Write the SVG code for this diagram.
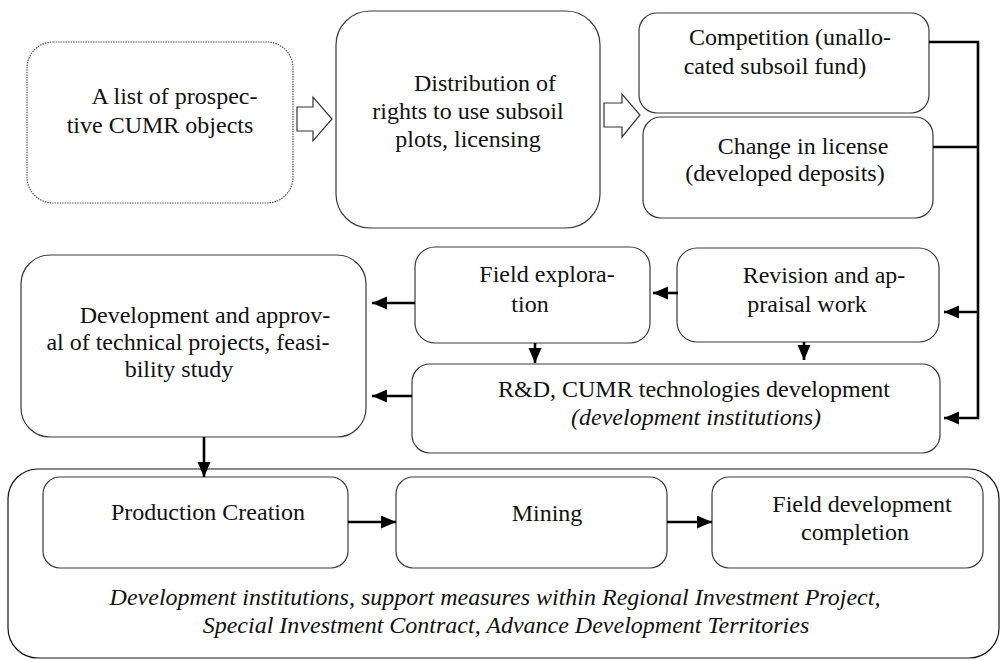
<svg xmlns="http://www.w3.org/2000/svg" width="1001" height="660" viewBox="0 0 1001 660">
<style>
.box{fill:#fff;stroke:#3a3a3a;stroke-width:1.2}
.dot{fill:#fff;stroke:#555;stroke-width:1.2;stroke-dasharray:1.5 1}
.hol{fill:#fff;stroke:#333;stroke-width:1.2}
.t{font-family:"Liberation Serif","Times New Roman",serif;font-size:24px;fill:#111;text-anchor:middle}
.i{font-style:italic}
.c{fill:none;stroke:#000;stroke-width:2.6}
</style>
<defs>
<marker id="ah" markerUnits="userSpaceOnUse" markerWidth="16" markerHeight="14" refX="15" refY="6.5" orient="auto">
<path d="M0,0 L15,6.5 L0,13 z" fill="#000"/>
</marker>
</defs>
<g id="container">
<rect x="8" y="469" width="991" height="189" rx="30" class="box" style="stroke:#111"/>
<text class="t i" x="495" y="605">Development institutions, support measures within Regional Investment Project,</text>
<text class="t i" x="506" y="633">Special Investment Contract, Advance Development Territories</text>
</g>
<g id="list">
<rect x="27" y="42" width="266" height="161" rx="26" class="dot"/>
<text class="t" x="174.5" y="104">A list of prospec-</text>
<text class="t" x="160" y="133">tive CUMR objects</text>
</g>
<g id="arrow1"><polygon class="hol" points="297,107 313,107 313,97 332,119 313,141 313,131 297,131"/></g>
<g id="distribution">
<rect x="336" y="11" width="264" height="217" rx="34" class="box"/>
<text class="t" x="485" y="91">Distribution of</text>
<text class="t" x="468" y="119">rights to use subsoil</text>
<text class="t" x="468" y="147">plots, licensing</text>
</g>
<g id="arrow2"><polygon class="hol" points="604,103 622,103 622,94 640,115 622,137 622,127 604,127"/></g>
<g id="competition">
<rect x="639" y="13" width="290" height="100" rx="18" class="box"/>
<text class="t" x="790" y="45">Competition (unallo-</text>
<text class="t" x="775" y="74">cated subsoil fund)</text>
</g>
<g id="change">
<rect x="643" y="117" width="290" height="101" rx="18" class="box"/>
<text class="t" x="803" y="154">Change in license</text>
<text class="t" x="785" y="181">(developed deposits)</text>
</g>
<g id="development">
<rect x="21" y="255" width="345" height="182" rx="29" class="box"/>
<text class="t" x="205" y="323">Development and approv-</text>
<text class="t" x="188" y="350">al of technical projects, feasi-</text>
<text class="t" x="179" y="377">bility study</text>
</g>
<g id="field-exploration">
<rect x="415" y="247" width="235" height="96" rx="20" class="box"/>
<text class="t" x="547" y="282">Field explora-</text>
<text class="t" x="530" y="312">tion</text>
</g>
<g id="revision">
<rect x="677" y="248" width="262" height="94" rx="20" class="box"/>
<text class="t" x="824" y="283">Revision and ap-</text>
<text class="t" x="807" y="312">praisal work</text>
</g>
<g id="rd">
<rect x="412" y="364" width="528" height="89" rx="18" class="box"/>
<text class="t" x="694" y="397">R&amp;D, CUMR technologies development</text>
<text class="t i" x="696" y="425">(development institutions)</text>
</g>
<g id="production">
<rect x="43" y="477" width="305" height="91" rx="17" class="box"/>
<text class="t" x="208" y="520">Production Creation</text>
</g>
<g id="mining">
<rect x="396" y="477" width="271" height="91" rx="17" class="box"/>
<text class="t" x="547" y="521">Mining</text>
</g>
<g id="completion">
<rect x="712" y="477" width="271" height="91" rx="17" class="box"/>
<text class="t" x="862" y="512">Field development</text>
<text class="t" x="855" y="540">completion</text>
</g>
<g id="connectors">
<path class="c" d="M929,42 H978 V418 H944" marker-end="url(#ah)"/>
<path class="c" d="M933,147 H978"/>
<path class="c" d="M978,312 H944" marker-end="url(#ah)"/>
<path class="c" d="M678,293 H653" marker-end="url(#ah)"/>
<path class="c" d="M415,303 H372" marker-end="url(#ah)"/>
<path class="c" d="M412,396 H372" marker-end="url(#ah)"/>
<path class="c" d="M535,343 V363" marker-end="url(#ah)"/>
<path class="c" d="M804,342 V360" marker-end="url(#ah)"/>
<path class="c" d="M204,437 V477" marker-end="url(#ah)"/>
<path class="c" d="M348,522 H396" marker-end="url(#ah)"/>
<path class="c" d="M667,522 H712" marker-end="url(#ah)"/>
</g>
</svg>
